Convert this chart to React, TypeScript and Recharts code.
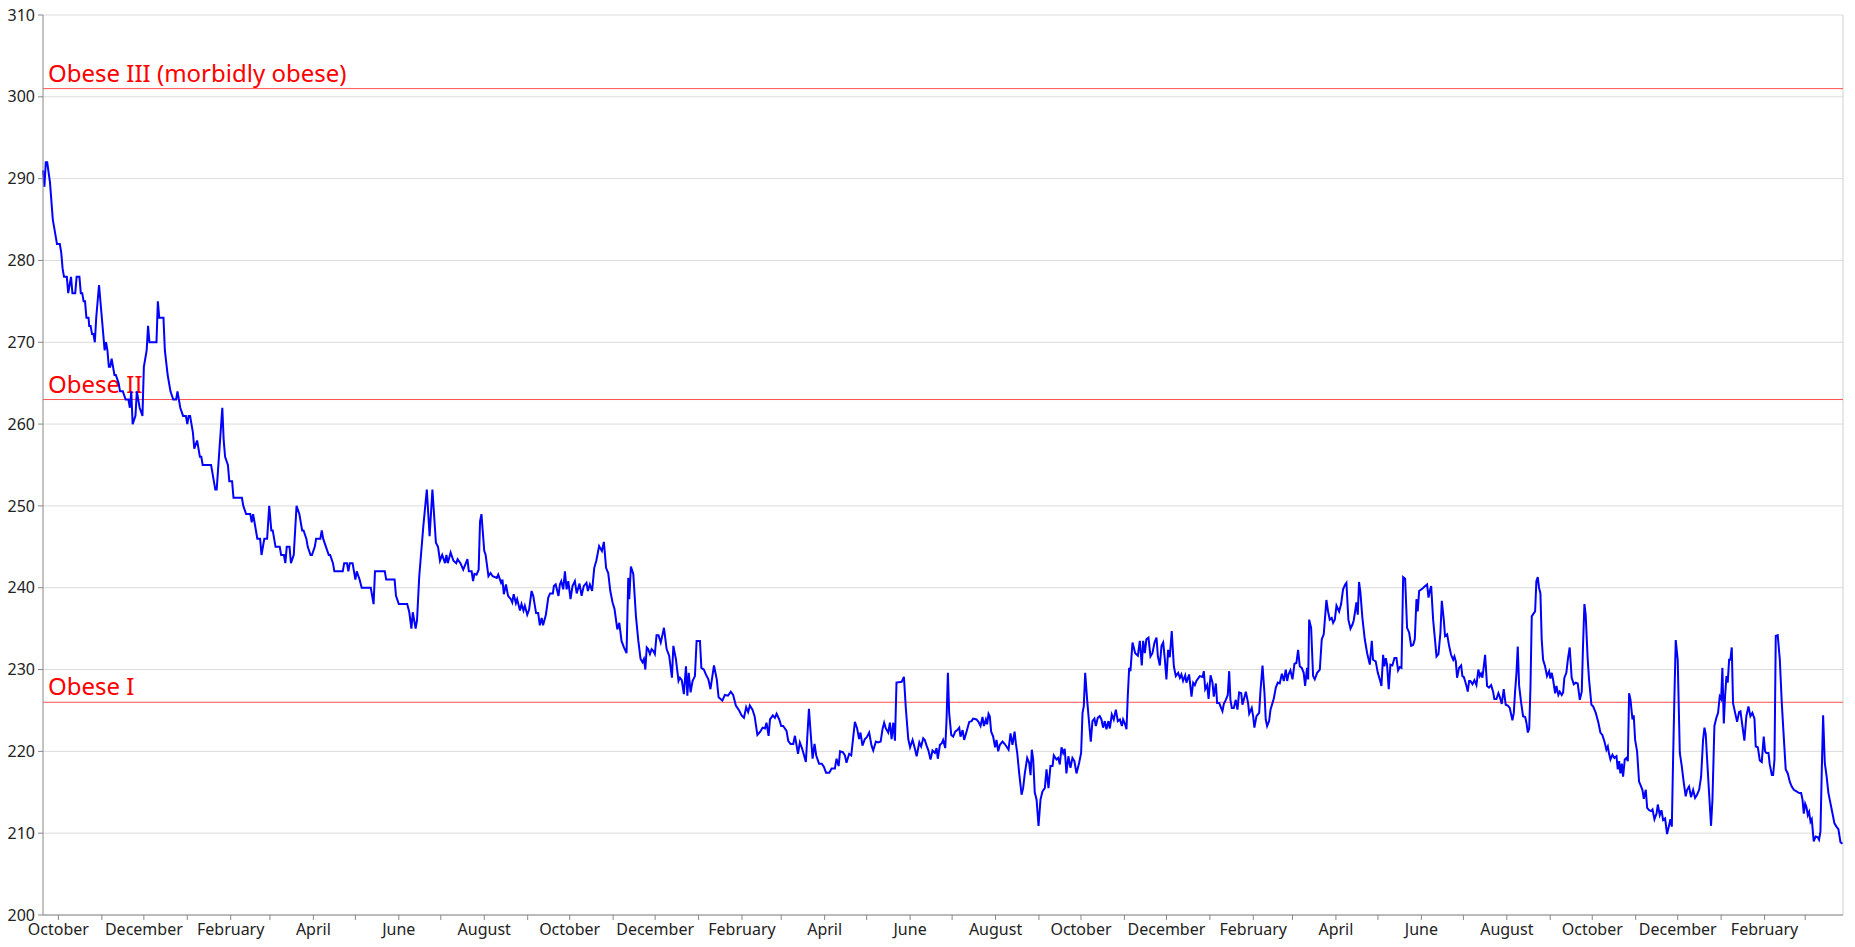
import { LineChart, Line, XAxis, YAxis, CartesianGrid, ReferenceLine } from "recharts"

// day 0 = 2016-09-20, weights in lbs
const startDate = Date.UTC(2016, 8, 20)
const lastDay = 1285

const autumn2016: [number, number][] = [
  [0, 291], [1, 289], [2, 292], [3, 292], [5, 289.5], [7, 285], [9, 283], [10, 282], [12, 282], [13, 281],
  [14, 279], [15, 278], [17, 278], [18, 276], [20, 278], [21, 276], [23, 276], [24, 278], [26, 278], [27, 276],
  [28, 276], [29, 275], [30, 275], [31, 273], [32.5, 273], [33, 272], [34, 272], [35, 271], [36, 271], [37, 270],
  [38, 273], [40, 277], [42, 273], [44, 269], [45, 270], [46, 269], [47, 267], [48, 267], [49, 268], [51, 266],
  [52, 266], [54, 265], [55, 264], [57, 264], [59, 263], [61, 263], [62, 262], [63, 264], [63.5, 262], [64, 260],
  [66, 261], [67, 264], [69, 262], [71, 261], [72, 267], [74, 269], [75, 272], [76, 270], [81, 270], [82, 275],
  [83, 273], [86, 273], [87, 269], [89, 266], [91, 264], [93, 263], [95, 263], [96, 264], [98, 262], [100, 261],
  [102, 261], [103, 260], [104, 261], [105, 261], [107, 259], [108, 257], [110, 258], [112, 256], [113, 256], [114, 255],
  [120, 255], [123, 252], [124, 252], [126, 257], [128, 262], [129, 258], [130, 256], [132, 255], [133, 253], [135, 253],
  [136, 251], [142, 251], [143, 250], [145, 249], [148, 249], [149, 248], [150, 249], [151, 248], [153, 246], [155, 246],
  [156, 244], [158, 246], [160, 246], [161.5, 250], [163, 247], [164, 247], [166, 245], [169, 245], [170, 244], [172, 244],
  [173, 243], [174, 245], [176, 245], [177, 243], [179, 244], [181, 250], [183, 249], [185, 247], [186, 247], [188, 246],
  [189, 245], [191, 244], [192, 244], [194, 245], [195, 246], [198, 246], [199, 247], [200, 246], [202, 245], [204, 244],
]

const summer2017: [number, number][] = [
  [205, 244], [207, 243], [208, 242], [214, 242], [215, 243], [217, 243], [218, 242], [219, 243], [221, 243], [223, 241],
  [224, 242], [226, 241], [227.5, 240], [234, 240], [236, 238], [237, 242], [244, 242], [245, 241], [248, 241], [250, 241],
  [251, 241], [252, 239], [254, 238], [260, 238], [261.5, 237], [263, 235], [264, 237], [266, 235], [267, 236], [268.6, 241.4],
  [271.5, 247.5], [274, 252], [276, 246.3], [278, 252], [280.5, 245.5], [282, 245], [283.4, 243.3], [285, 244], [287, 243], [288, 244],
  [289, 243], [291, 244.3], [293, 243.3], [295, 243], [296, 243.5], [298, 243], [300, 242.2], [303, 243.5], [304, 242], [306, 242],
  [307, 240.8], [308, 241.7], [309.5, 241.6], [311, 242.2], [312, 248.1], [313, 249], [315, 244.5], [316, 244], [318, 241.4], [319.5, 241.8],
  [321, 241.4], [324, 241.2], [325, 241.6], [327, 240.6], [328, 241], [329, 239.2], [330.5, 240.4], [332, 239], [334, 238.6], [335, 238.2],
  [336, 239.2], [337.6, 238.1], [338.5, 238.6], [340.5, 237.2], [341.6, 238], [343, 237.2], [344, 237.8], [345.7, 236.7], [347, 237.3], [348.8, 239.6],
  [350, 239], [352, 236.9], [353.5, 236.9], [354.7, 235.4], [356, 236.3], [357, 235.4], [359, 236.7], [360.7, 238.8], [362, 239.3], [364, 239.3],
  [364.7, 240.2], [366, 240.4], [368, 239], [369, 240.4], [370, 240.8], [371.4, 239.8], [372.6, 242], [373.8, 239.8], [375, 240.8], [376.6, 238.6],
  [378, 240.2], [379.7, 240.8], [381, 239.3], [383, 240.5], [384.5, 239], [386, 240.2], [388, 240.6], [389, 239.6], [390.4, 240.4], [392, 239.6],
  [393.5, 242.4], [395, 243.3], [397, 245.1], [399, 244.5], [400.4, 245.6], [402, 242.4], [403.5, 241.8], [405, 239.6], [406.6, 238.2], [408, 237.4],
  [410, 234.9], [411.4, 235.7], [413, 233.5], [414.7, 232.7], [416.6, 232],
]

const winter2018: [number, number][] = [
  [417.8, 241.2], [418.5, 238.6], [419.7, 242.6], [421.4, 241.7], [423.3, 236.5], [425, 233.5], [426.6, 231.3], [428, 230.9], [429, 231.3], [430, 230],
  [431, 232.7], [432, 232.5], [433.3, 231.9], [434.5, 232.5], [435.6, 232.3], [436.8, 231.9], [438, 234.2], [439.4, 234.2], [441, 233.3], [442.3, 234.3],
  [443.3, 235.1], [445.2, 232.5], [447, 231.7], [449, 229], [450, 232.9], [451.8, 231.3], [453.7, 228.6], [454.7, 229], [456, 228.7], [457.5, 227],
  [459, 230.4], [460, 226.8], [461, 229.6], [462.3, 227.2], [463.7, 228.6], [465.4, 229.2], [466.6, 233.5], [469, 233.5], [470, 230.2], [471.8, 230],
  [473.2, 229.4], [475, 228.8], [476.5, 227.6], [479, 230.5], [481, 228.8], [482.3, 226.6], [483.7, 226.4], [485, 226.2], [486.8, 226.9], [489, 226.8],
  [491, 227.3], [492.7, 226.9], [494.6, 225.6], [497, 225], [498.7, 224.4], [500.4, 224.1], [502, 225.4], [503.4, 224.8], [504.6, 225.6], [506.5, 225.1],
  [508, 224.3], [510, 222], [512, 222.4], [513.7, 222.9], [515.4, 222.8], [516.5, 223.5], [518, 221.9], [519, 223.9], [521, 224.4], [522.5, 224.1],
  [523.7, 224.6], [525.6, 223.9], [527, 223.1], [528.4, 223.1], [530.8, 222.5], [532, 221.3], [533.7, 220.9], [535.6, 220.9], [536.8, 221.9], [538, 220.7],
  [539, 219.7], [540.3, 221.1], [541.8, 220.4], [543, 219.7], [544.6, 218.7], [545.6, 221.7], [546.8, 225.2], [548, 222.3], [549.4, 219.1], [550.8, 220.9],
  [552, 219.5], [554, 218.5], [556, 218.5], [557.5, 218.1], [559, 217.4], [561.3, 217.4], [563, 217.9], [565.3, 217.9], [566.5, 219.1], [568, 218.2],
  [569, 220], [571, 219.9], [572.5, 219.5], [573.6, 218.6], [575.5, 219.7], [577, 219.5], [579.6, 223.6], [581.2, 222.8], [582.6, 221.5], [583.6, 222.3],
  [585, 220.7], [586.7, 221.5], [588, 221.7], [589.8, 222.3], [591.5, 220.7], [592.7, 220.1], [594.6, 221.2], [596.2, 221.1], [598, 221.2], [599.3, 222.7],
  [600.5, 223.5], [601.7, 222.8], [603.4, 222.3], [604.6, 223.5], [605.8, 221.5], [607, 223.5], [608.2, 221.3], [609.3, 228.4], [613, 228.5], [614.6, 229.1],
  [616, 225.2], [617.7, 221.5], [619, 220.5], [620.8, 221.4], [622.5, 220.3], [623.7, 219.4], [625.6, 221.1],
]

const fall2018: [number, number][] = [
  [626.9, 220.6], [628.4, 221.6], [629.5, 221.4], [630.8, 220.7], [632.1, 220.1], [633.6, 219], [635, 220.1], [636.7, 219.8], [637.9, 220.4], [638.8, 219.1],
  [640.3, 220.8], [641.7, 221], [642.6, 221.4], [644.1, 220.4], [645, 223.7], [646, 229.6], [646.9, 224.7], [648.4, 222], [649.8, 221.8], [651.2, 222.4],
  [652.7, 222.6], [654.1, 222.9], [655, 221.8], [656.5, 222.6], [657.6, 221.4], [659.3, 222.4], [661.2, 223.6], [662.9, 223.7], [664, 224], [666.4, 223.9],
  [667.8, 223.6], [669.3, 223.1], [670.7, 224.2], [671.7, 223.1], [673.1, 223.9], [674, 223.3], [675, 224.6], [675.9, 224.3], [676.9, 222.4], [678.3, 221.8],
  [679.7, 220.5], [680.7, 221.4], [681.9, 220], [683.1, 220.8], [685, 221.2], [686.6, 220.9], [687.8, 220.6], [689.3, 220.2], [690.7, 222.2], [692.1, 220.8],
  [693.6, 222.4], [694.5, 221], [695.5, 219.8], [696.9, 217.3], [698.6, 214.7], [699.7, 215.5], [700.9, 217.3], [702.6, 219.2], [704, 218.6], [705, 217.1],
  [705.9, 220.2], [706.9, 219], [708, 215], [709.3, 214.1], [710.7, 210.9], [712.1, 214.1], [713.5, 215.1], [715.2, 215.5], [716.4, 217.8], [717.8, 215.5],
  [719.2, 218.2], [720.7, 218.2], [721.6, 219.5], [723.5, 219], [724.7, 219.2], [725.9, 218.4], [727.1, 220.5], [728.3, 219.8], [729.4, 220.3], [730.6, 217.3],
  [732, 219.4], [733.5, 218], [734.9, 219.2], [736.3, 218.8], [737.8, 217.3], [739.7, 218.6], [741.1, 219.8], [742.1, 224.7], [743, 225.5], [744, 229.6],
  [745.4, 226.3], [746.8, 223.5], [748, 221.2], [749.2, 223.7], [750.6, 224], [751.6, 223.1], [753, 224.1], [754.4, 224.3], [755.6, 223.9], [756.8, 222.9],
  [758, 223.7], [759.2, 222.7], [760.6, 223.7], [761.6, 222.8], [763, 224.5], [764.4, 223.9], [765.9, 225.1], [767.3, 223.7], [768.8, 223.9], [770.2, 223.1],
  [771.1, 223.9], [772.3, 223.4], [773.5, 222.7], [774.4, 226.7], [775.4, 230.2], [776.3, 229.8], [777.8, 233.3], [779.7, 232], [781.6, 231.7], [783, 233.5],
  [784.4, 230.5], [785.4, 233.5], [786.6, 232], [787.7, 233.7], [789.2, 233.9], [790.6, 231.6], [792, 232], [793.5, 233.3], [794.9, 233.9], [795.9, 231.6],
  [797.3, 230.5], [798.5, 232.9], [799.7, 233.3], [800.9, 231.2], [802, 228.8], [803.2, 232.4], [804.4, 231.5], [805.8, 234.7], [807.3, 230.4], [808.7, 229.2],
  [810.4, 229.6], [811.6, 229], [812.7, 229.4], [813.9, 228.6], [815.4, 229.3], [816.3, 228.4], [818.2, 229.4], [819.9, 226.7], [821.1, 228.4], [822.3, 228.1],
  [823.4, 228.6],
]

const spring2019: [number, number][] = [
  [825.8, 229.2], [827.8, 229.1], [828.7, 229.8], [829.7, 227.6], [831.1, 228.1], [832.1, 226.4], [833.5, 229.3], [834.9, 228.4], [835.8, 226.7], [837.3, 228.3],
  [838.2, 225.9], [839.7, 225.9], [840.6, 225.5], [842, 224.9], [843, 225.8], [844.4, 226.3], [845.8, 226.9], [846.8, 229.8], [847.7, 226.3], [848.7, 225.3],
  [850.1, 225.3], [851.5, 226.3], [852.7, 225.1], [853.9, 227.2], [855.4, 227.1], [856.3, 225.7], [857.5, 226.5], [858.7, 227.3], [860.3, 225.9], [861.1, 224.6],
  [862.9, 225.3], [863.9, 224.3], [864.8, 222.9], [866.3, 224.3], [868.2, 224.7], [869.1, 227.3], [870.6, 230.5], [872, 227.1], [872.9, 223.9], [873.9, 223.1],
  [875.3, 223.7], [876.3, 225.1], [877.7, 225.9], [878.7, 226.5], [880.1, 227.8], [881.5, 228.4], [882.9, 228.3], [884.4, 229.5], [885.8, 228.6], [887.2, 230],
  [888.2, 228.6], [889.1, 229.4], [890.5, 229.9], [892, 228.8], [893.4, 230.7], [894.8, 230.8], [896, 232.4], [897.2, 230.4], [898.6, 230.2], [900, 229.6],
  [901, 228], [902.4, 230.2], [903.2, 228.8], [903.9, 236.1], [905.3, 235.1], [906.7, 229.2], [907.9, 228.8], [909.6, 229.6], [911.5, 230], [912.9, 233.7],
  [914.3, 234.3], [916.2, 238.5], [917.4, 237.1], [918.6, 236.1], [920, 236.3], [921, 235.7], [922.2, 236.1], [923.4, 237.8], [925.3, 237.1], [926.7, 238],
  [928.1, 239.8], [929.6, 240.4], [930.5, 240.6], [931.9, 236.1], [933.4, 235], [934.8, 235.5], [935.7, 236], [936.7, 237.1], [937.6, 238.2], [938.6, 236.7],
  [939.5, 240.7], [940.5, 239.4], [941.9, 236.3], [943.6, 233.7], [945.3, 232], [947.2, 230.6], [948.6, 233.5], [949.5, 231.2], [951.4, 231], [952.9, 229.6],
  [954.3, 228.8], [955.5, 228], [956.7, 231.8], [957.6, 230.4], [958.6, 231.4], [959.5, 230.6], [960.7, 227.6], [961.9, 230.6], [963.3, 230.5], [964.8, 231.4],
  [966.2, 231.4], [967.4, 229.9], [968.6, 230.3], [969.8, 230.2], [971, 241.3], [972.4, 241.1], [973.8, 235.1], [975.3, 234.5], [976.7, 232.9], [978.1, 233],
  [979.3, 233.7], [980.5, 238.6], [981.4, 237.1], [982.4, 239.6], [984.8, 239.9], [986.7, 240.2], [988.1, 240.4], [989.1, 238.8], [990, 239.6], [991, 240.2],
  [992.4, 236.1], [993.8, 233.5], [994.8, 231.6], [996.2, 231.9], [997.6, 234.5], [998.6, 238.4], [1000, 236.1], [1000.9, 234.1], [1002.4, 234.3], [1003.8, 232.9],
  [1005.2, 231.8], [1006.7, 231.2], [1007.6, 231.6], [1008.6, 231], [1009.5, 229], [1010.9, 230.2], [1012.4, 230.5], [1013.3, 229.2], [1014.3, 229.1], [1015.2, 228.6],
  [1016.2, 228], [1017.1, 227.3], [1018.1, 228.6], [1019, 228.6], [1020.5, 228.2], [1021.9, 228.7], [1023.3, 228.1], [1024.7, 230], [1025.7, 229.2], [1026.6, 229.5],
  [1027.6, 229], [1029.5, 231.8], [1030.9, 228], [1032.3, 227.8], [1033.8, 228.1], [1035.2, 227.3], [1036.1, 226.4], [1037.6, 226.4], [1039, 227.1], [1039.9, 226.7],
  [1041.4, 225.8], [1042.8, 227.6], [1044.2, 225.7], [1045.7, 225.6], [1047.1, 225.3],
]

const winter2020: [number, number][] = [
  [1049, 223.8], [1050, 224.7], [1050.9, 227.3], [1051.9, 229.6], [1052.8, 232.8], [1053.8, 228], [1055.2, 226], [1056.6, 224.3], [1058.1, 224.2], [1059, 223.5],
  [1060, 222.3], [1061, 222.8], [1061.9, 228], [1062.8, 236.5], [1064.3, 236.9], [1065.2, 237.1], [1066.1, 240.8], [1067.1, 241.3], [1068, 240], [1069, 239.3],
  [1069.9, 233.7], [1070.9, 231.2], [1072.3, 230.4], [1073.7, 229.2], [1075.2, 229.8], [1076.1, 228.9], [1077.1, 229.6], [1078, 228.8], [1079.5, 227.1], [1080.4, 228],
  [1081.8, 226.9], [1082.8, 227.3], [1084.2, 226.9], [1085.2, 227.2], [1086.1, 229], [1087.5, 229.6], [1088.7, 231.4], [1089.9, 232.7], [1091.3, 229], [1092.8, 228.2],
  [1094.2, 228.4], [1095.6, 228.3], [1097.1, 226.3], [1098.5, 227.3], [1099.4, 232.9], [1100.4, 238], [1101.3, 236.7], [1102.7, 231.4], [1103.7, 228.8], [1105.4, 225.7],
  [1106.6, 225.5], [1108.5, 224.7], [1110.4, 223.5], [1111.8, 222.3], [1113.2, 222], [1114.7, 221.2], [1116.1, 220.2], [1117.1, 220.6], [1118, 219.7], [1119, 219],
  [1120.4, 219.6], [1121.8, 219.2], [1123.3, 219.4], [1124.2, 217.8], [1125.2, 218.8], [1126.1, 217.3], [1127.1, 218.5], [1128, 216.9], [1129.2, 219], [1130.4, 219.2],
  [1131.4, 218.8], [1132.3, 227.1], [1133.3, 226.3], [1134.7, 223.9], [1135.6, 224.4], [1136.6, 221.4], [1138, 220], [1139.4, 216.3], [1140.4, 215.9], [1141.8, 215.3],
  [1142.8, 214.2], [1144.2, 215.3], [1145.2, 213.1], [1146.6, 212.8], [1148, 212.7], [1149, 212.9], [1150.4, 211.7], [1151.9, 212.4], [1152.8, 213.5], [1154.2, 212.2],
  [1155.4, 212.8], [1156.6, 211.6], [1158, 211.8], [1159.4, 209.9], [1160.9, 211], [1161.8, 211.7], [1162.8, 210.8], [1163.7, 219], [1164.7, 227.1], [1165.6, 233.6],
  [1167, 231.2], [1168.5, 219.8], [1169.9, 218.2], [1171.3, 216.2], [1172.7, 214.5], [1173.7, 215.3], [1175.1, 215.7], [1176.5, 214.4], [1178, 215.3], [1179.4, 214.3],
  [1180.8, 214.7], [1182.3, 215.3], [1183.7, 216.9], [1185.1, 221.4], [1186.1, 222.9], [1187, 222.1], [1188, 219], [1189.4, 214.9], [1190.8, 210.9], [1191.8, 214.1],
  [1193.2, 223.1], [1194.6, 224.1], [1195.8, 224.7], [1197, 226.7], [1198, 226.4], [1198.9, 230.2], [1199.9, 223.4], [1200.8, 226.7], [1201.8, 229.2], [1202.7, 228.4],
  [1203.7, 231.2], [1204.6, 231.2], [1205.6, 232.7], [1206.5, 225.9], [1208, 224.7], [1209.4, 223.6], [1210.8, 224.8], [1211.8, 224.9], [1213.2, 223.1], [1214.6, 221.3],
  [1216, 224.3], [1217.5, 225.5], [1218.9, 224.3], [1220.3, 224.7], [1221.8, 224], [1222.7, 220.6], [1224.2, 220.5], [1225.6, 218.9], [1227, 218.7], [1228.4, 221.8],
  [1229.4, 220], [1230.3, 219.8], [1231.8, 219.8], [1232.7, 218.4], [1234.2, 217.1], [1235.1, 217.1], [1236.1, 219], [1237, 234.1], [1238.4, 234.2], [1239.9, 231.2],
  [1241.3, 225.9], [1242.7, 221.8], [1244.1, 217.8], [1245.6, 217.3], [1247, 216.3], [1248.4, 215.7], [1249.9, 215.3], [1251.8, 215.1], [1253.7, 214.9], [1255.1, 214.9],
  [1256.1, 214.1], [1257, 212.4], [1258, 213.6], [1258.9, 213.2], [1259.9, 212.2], [1260.8, 212.6], [1261.8, 211.4], [1262.7, 211.7], [1264.1, 209], [1265.5, 209.6],
  [1267, 209.5], [1267.9, 209.2], [1268.9, 210.2], [1269.8, 217.3], [1270.8, 224.4], [1272, 218.6], [1273.2, 217.1], [1274.6, 214.9], [1276, 213.7], [1277.5, 212.4],
  [1278.9, 211.2], [1280.3, 210.8], [1281.7, 210.5], [1283.2, 208.9], [1284.6, 208.7],
]

const weightTicks = [200, 210, 220, 230, 240, 250, 260, 270, 280, 290, 300, 310]

const obesityLines = [
  { label: "Obese III (morbidly obese)", lbs: 301 },
  { label: "Obese II", lbs: 263 },
  { label: "Obese I", lbs: 226 },
]

const monthNames = [
  "January", "February", "March", "April", "May", "June",
  "July", "August", "September", "October", "November", "December",
]

const data = [...autumn2016, ...summer2017, ...winter2018, ...fall2018, ...spring2019, ...winter2020].map(
  ([day, lbs]) => ({ day, lbs })
)

// one tick per month start, label only every other month
const monthTicks: number[] = []
const tickMonth: Record<number, number> = {}
for (let y = 2016; y <= 2020; y++) {
  for (let m = 0; m < 12; m++) {
    const day = Math.round((Date.UTC(y, m, 1) - startDate) / 86400000)
    if (day > 0 && day < lastDay) {
      monthTicks.push(day)
      tickMonth[day] = m
    }
  }
}

const fmtMonth = (day: number) => {
  const m = tickMonth[day]
  return m % 2 === 1 ? monthNames[m] : ""
}

function ZoneLabel(props: any) {
  const { viewBox, text } = props
  if (!viewBox) return null
  return (
    <text x={viewBox.x + 5} y={viewBox.y - 7} fill="#ff0000" fontSize={24} fontFamily="Noto Sans">
      {text}
    </text>
  )
}

export default function App() {
  return (
    <div style={{ position: "absolute", left: 0, top: 0, fontFamily: "Noto Sans" }}>
      <LineChart width={1850} height={945} data={data} margin={{ top: 15, right: 7, left: 0, bottom: 0 }}>
        <CartesianGrid vertical={false} stroke="#dcdcdc" />
        <XAxis
          dataKey="day"
          type="number"
          domain={[0, lastDay]}
          ticks={monthTicks}
          interval={0}
          tickFormatter={fmtMonth}
          height={30}
          tickSize={5}
          tickMargin={4}
          stroke="#888"
          tick={{ fill: "#222", fontSize: 16 }}
        />
        <YAxis
          type="number"
          domain={[200, 310]}
          ticks={weightTicks}
          interval={0}
          width={43}
          tickSize={5}
          tickMargin={3}
          stroke="#888"
          tick={{ fill: "#222", fontSize: 16 }}
        />
        <ReferenceLine x={lastDay} stroke="#d0d0d0" />
        {obesityLines.map((o) => (
          <ReferenceLine
            key={o.label}
            y={o.lbs}
            stroke="#ff5050"
            strokeWidth={1}
            label={<ZoneLabel text={o.label} />}
          />
        ))}
        <Line
          type="linear"
          dataKey="lbs"
          stroke="#0000ff"
          strokeWidth={2}
          dot={false}
          isAnimationActive={false}
        />
      </LineChart>
    </div>
  )
}
